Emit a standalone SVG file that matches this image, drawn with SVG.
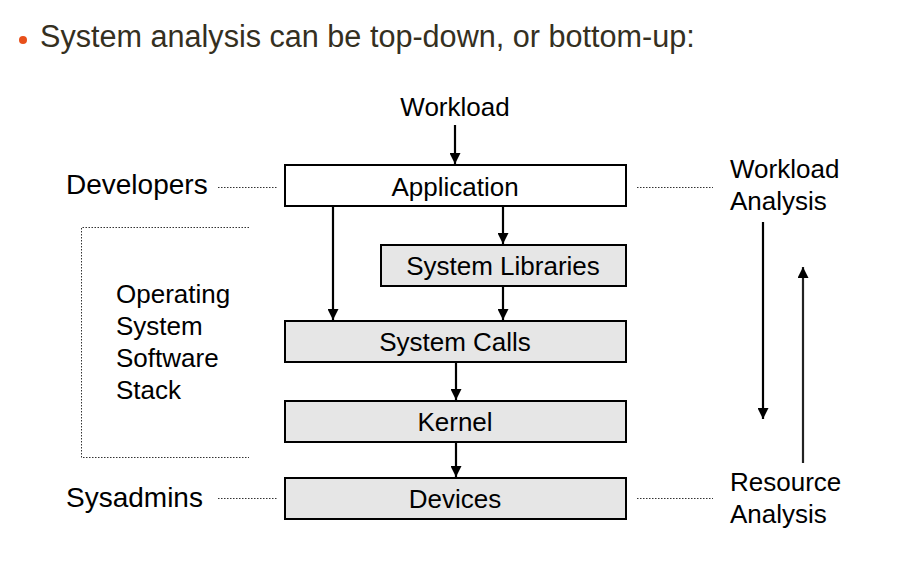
<svg xmlns="http://www.w3.org/2000/svg" width="920" height="566" viewBox="0 0 920 566">
<defs>
<marker id="ah" viewBox="0 0 10 10" refX="10" refY="5" markerWidth="11" markerHeight="11" markerUnits="userSpaceOnUse" orient="auto">
<path d="M0,0 L10,5 L0,10 z" fill="#000"/>
</marker>
<style>
text{font-family:"Liberation Sans",Arial,Helvetica,sans-serif;fill:#000;font-size:26px}
.title{font-size:30.6px;fill:#35301f}
.side{font-size:28px}
.box{stroke:#000;stroke-width:2;fill:#e6e6e6}
.white{fill:#fff}
.c{text-anchor:middle}
.arr{stroke:#000;stroke-width:2.2;fill:none;marker-end:url(#ah)}
.dot{stroke:#333;stroke-width:1;stroke-dasharray:1.5 1.5;fill:none}
</style>
</defs>
<rect width="920" height="566" fill="#fff"/>
<circle cx="23" cy="40" r="4" fill="#e8501a"/>
<text class="title" x="40" y="47">System analysis can be top-down, or bottom-up:</text>

<g id="workload"><text class="c" x="455" y="116">Workload</text></g>
<g id="application"><rect class="box white" x="285" y="165" width="341" height="41"/><text class="c" x="455" y="196">Application</text></g>
<g id="syslibs"><rect class="box" x="381" y="245" width="245" height="41"/><text class="c" x="503" y="275">System Libraries</text></g>
<g id="syscalls"><rect class="box" x="285" y="321" width="341" height="41"/><text class="c" x="455" y="351">System Calls</text></g>
<g id="kernel"><rect class="box" x="285" y="401" width="341" height="41"/><text class="c" x="455" y="431">Kernel</text></g>
<g id="devices"><rect class="box" x="285" y="478" width="341" height="41"/><text class="c" x="455" y="508">Devices</text></g>

<g id="developers"><text class="side" x="66" y="194">Developers</text></g>
<g id="sysadmins"><text class="side" x="66" y="507">Sysadmins</text></g>
<g id="osstack">
<path class="dot" d="M249,227.5 H81.5 V457.5 H249"/>
<text x="116" y="303">Operating</text>
<text x="116" y="335">System</text>
<text x="116" y="367">Software</text>
<text x="116" y="399">Stack</text>
</g>
<g id="workloadanalysis"><text x="730" y="178">Workload</text><text x="730" y="210">Analysis</text></g>
<g id="resourceanalysis"><text x="730" y="491">Resource</text><text x="730" y="523">Analysis</text></g>

<g id="connectors">
<line class="arr" x1="455" y1="125" x2="455" y2="164"/>
<line class="arr" x1="333" y1="206" x2="333" y2="320"/>
<line class="arr" x1="503" y1="206" x2="503" y2="244"/>
<line class="arr" x1="503" y1="286" x2="503" y2="320"/>
<line class="arr" x1="456" y1="362" x2="456" y2="400"/>
<line class="arr" x1="456" y1="442" x2="456" y2="477"/>
<line class="arr" x1="763" y1="222" x2="763" y2="419"/>
<line class="arr" x1="803" y1="463" x2="803" y2="267" style="stroke:#222"/>
<line class="dot" x1="218" y1="187.5" x2="278" y2="187.5"/>
<line class="dot" x1="637" y1="187.5" x2="713" y2="187.5"/>
<line class="dot" x1="218" y1="498.5" x2="278" y2="498.5"/>
<line class="dot" x1="637" y1="498.5" x2="713" y2="498.5"/>
</g>
</svg>
